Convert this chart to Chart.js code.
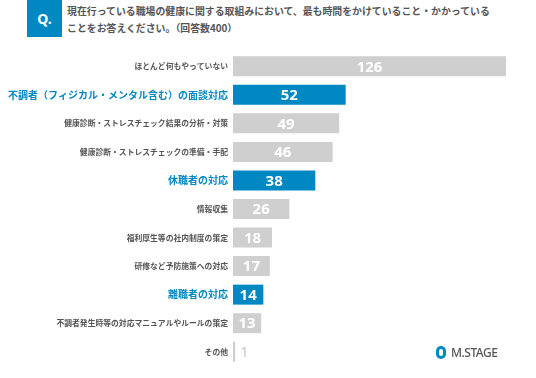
<!DOCTYPE html>
<html>
<head>
<meta charset="utf-8">
<script src="https://cdn.jsdelivr.net/npm/chart.js@4/dist/chart.umd.min.js"></script>
<style>
  body { margin: 0; background: #fff; font-family: "Noto Sans CJK JP", sans-serif; }
  #wrap { position: relative; width: 536px; height: 378px; }
  #q { position: absolute; left: 27px; top: 0; width: 35px; height: 37px; background: #0088c2;
       color: #fff; font: bold 14px "Noto Sans", sans-serif; text-align: center; line-height: 37px; }
  #title { position: absolute; left: 67px; top: 3px; width: 460px; color: #555; font-size: 9.9px;
           font-weight: bold; line-height: 17px; }
  #logo { position: absolute; left: 436px; top: 344px; font: 500 12px "Noto Sans", sans-serif; color: #555;
          display: flex; align-items: center; letter-spacing: -0.5px; }
  #logo span.mark { display: inline-block; width: 10px; height: 13px; border-radius: 5px; background: #0088c2;
          margin-right: 5px; position: relative; }
  #logo span.mark::after { content: ""; position: absolute; left: 3px; top: 3px; width: 4px; height: 7px; background: #fff; border-radius: 2px; }
  canvas { position: absolute; left: 0; top: 0; }
</style>
</head>
<body>
<div id="wrap">
  <div id="q">Q.</div>
  <div id="title">現在行っている職場の健康に関する取組みにおいて、最も時間をかけていること・かかっている<br>ことをお答えください。（回答数400）</div>
  <canvas id="chart" width="536" height="378"></canvas>
  <div id="logo"><span class="mark"></span>M.STAGE</div>
</div>
<script>
const categories = [
  'ほとんど何もやっていない',
  '不調者（フィジカル・メンタル含む）の面談対応',
  '健康診断・ストレスチェック結果の分析・対策',
  '健康診断・ストレスチェックの準備・手配',
  '休職者の対応',
  '情報収集',
  '福利厚生等の社内制度の策定',
  '研修など予防施策への対応',
  '離職者の対応',
  '不調者発生時等の対応マニュアルやルールの策定',
  'その他'
];
const counts = [126, 52, 49, 46, 38, 26, 18, 17, 14, 13, 1];
const highlighted = [false, true, false, false, true, false, false, false, true, false, false];

const BLUE = '#0088c2';
const GRAY = '#d0cfd0';

const valueLabels = {
  id: 'valueLabels',
  afterDatasetsDraw(chart) {
    const ctx = chart.ctx;
    const meta = chart.getDatasetMeta(0);
    ctx.save();
    ctx.textBaseline = 'middle';
    meta.data.forEach((bar, i) => {
      const v = counts[i];
      const w = bar.x - bar.base;
      if (w > 20) {
        ctx.fillStyle = '#fff';
        ctx.font = 'bold 15px "Noto Sans", sans-serif';
        ctx.textAlign = 'center';
        ctx.fillText(String(v), (bar.x + bar.base) / 2, bar.y + 1);
      } else {
        ctx.fillStyle = '#c8c8c8';
        ctx.font = '15px "Noto Sans", sans-serif';
        ctx.textAlign = 'left';
        ctx.fillText(String(v), bar.x + 5, bar.y + 1);
      }
    });
    ctx.restore();
  }
};

new Chart('chart', {
  type: 'bar',
  data: {
    labels: categories,
    datasets: [{
      data: counts,
      backgroundColor: highlighted.map(h => h ? BLUE : GRAY),
      borderWidth: 0,
      barPercentage: 0.7,
      categoryPercentage: 1.0,
      minBarLength: 2
    }]
  },
  options: {
    indexAxis: 'y',
    responsive: false,
    animation: false,
    layout: { padding: { top: 52, right: 30, bottom: 12, left: 0 } },
    plugins: { legend: { display: false }, tooltip: { enabled: false } },
    scales: {
      x: { display: false, min: 0, max: 126 },
      y: {
        grid: { display: false },
        border: { display: false },
        afterFit(scale) { scale.width = 233; },
        ticks: {
          padding: -3,
          color: ctx => highlighted[ctx.index] ? BLUE : '#555',
          font: ctx => highlighted[ctx.index]
            ? { family: '"Noto Sans CJK JP", sans-serif', size: 10, weight: 'bold' }
            : { family: '"Noto Sans CJK JP", sans-serif', size: 7.8, weight: 'bold' }
        }
      }
    }
  },
  plugins: [valueLabels]
});
</script>
</body>
</html>
